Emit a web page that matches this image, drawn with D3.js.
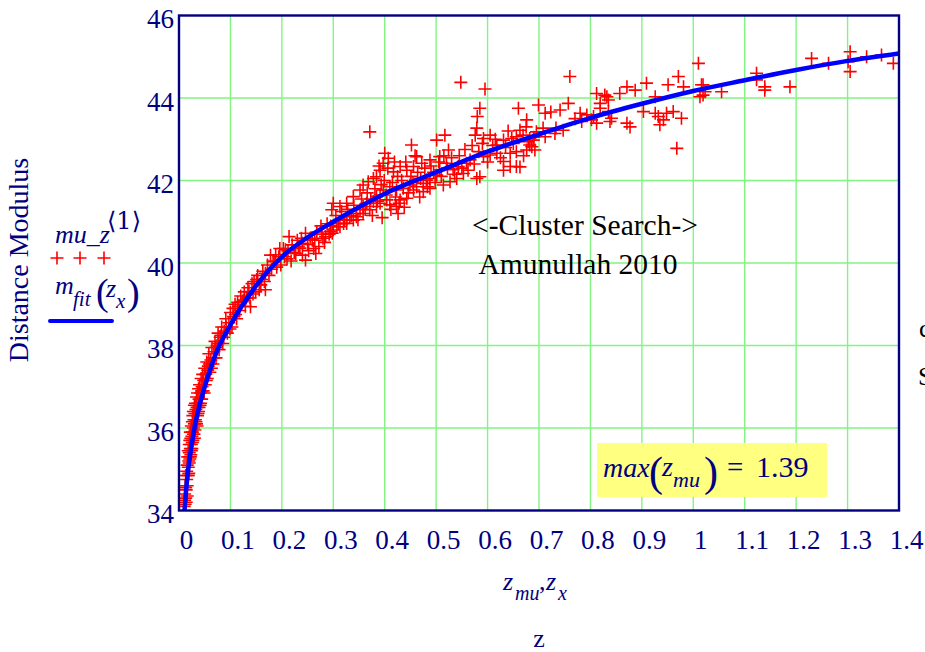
<!DOCTYPE html>
<html>
<head>
<meta charset="utf-8">
<script src="https://cdn.jsdelivr.net/npm/d3@7"></script>
<style>
  body { margin: 0; background: #fff; }
  svg { display: block; }
  text { font-family: "Liberation Serif", "Times New Roman", serif; }
</style>
</head>
<body>
<script>
// Tick values and labels
var xTicks = [0, 0.1, 0.2, 0.3, 0.4, 0.5, 0.6, 0.7, 0.8, 0.9, 1, 1.1, 1.2, 1.3, 1.4];
var xTickLabels = ["0", "0.1", "0.2", "0.3", "0.4", "0.5", "0.6", "0.7", "0.8", "0.9", "1", "1.1", "1.2", "1.3", "1.4"];
var yTicks = [34, 36, 38, 40, 42, 44, 46];
var yTickLabels = ["34", "36", "38", "40", "42", "44", "46"];

// Fitted curve m_fit(z_x)
var fitZ  = [0.01, 0.015, 0.02, 0.03, 0.04, 0.05, 0.075, 0.1, 0.15, 0.2, 0.25, 0.3, 0.4, 0.5, 0.6, 0.7, 0.8, 0.9, 1.0, 1.1, 1.2, 1.3, 1.4];
var fitMu = [33.9, 34.65, 35.2, 36.0, 36.55, 37.0, 37.9, 38.5, 39.45, 40.15, 40.62, 41.0, 41.68, 42.2, 42.7, 43.12, 43.52, 43.86, 44.17, 44.43, 44.68, 44.9, 45.08];

// Supernovae mu_z<1> : [z, mu]
var lowZ = [
  [0.010,34.1],[0.011,34.4],[0.012,34.15],[0.012,34.6],[0.013,34.3],[0.013,34.85],[0.014,34.5],[0.014,34.2],
  [0.015,34.75],[0.015,34.95],[0.016,34.6],[0.016,35.1],[0.017,34.85],[0.017,35.3],[0.018,35.05],[0.018,35.45],
  [0.019,35.2],[0.019,34.9],[0.020,35.4],[0.020,35.6],[0.021,35.25],[0.021,35.7],[0.022,35.5],[0.022,35.9],
  [0.023,35.35],[0.023,35.75],[0.024,35.6],[0.024,36.05],[0.025,35.8],[0.025,35.5],[0.026,36.15],[0.026,35.9],
  [0.027,35.7],[0.027,36.3],[0.028,36.0],[0.028,36.4],[0.029,35.85],[0.029,36.2],[0.030,36.55],[0.030,36.1],
  [0.031,35.95],[0.031,36.35],[0.032,36.6],[0.032,36.2],[0.033,36.45],[0.034,36.75],[0.034,36.1],[0.035,36.5],
  [0.036,36.3],[0.036,36.85],[0.037,36.6],[0.038,36.95],[0.038,36.4],[0.039,36.7],[0.040,37.05],[0.041,36.55],
  [0.042,36.85],[0.043,37.2],[0.044,36.7],[0.045,37.0],[0.046,37.3],[0.047,36.9],[0.048,37.15],[0.050,37.45],
  [0.051,37.05],[0.052,37.3],[0.054,37.6],[0.055,37.2],[0.057,37.5],[0.058,37.8],[0.060,37.35],[0.062,37.65],
  [0.064,37.95],[0.066,37.55],[0.068,37.85],[0.070,38.1],[0.072,37.7],[0.074,38.0],[0.076,38.3],[0.078,37.9],
  [0.080,38.2],[0.083,38.45],[0.085,38.05],[0.088,38.35],[0.091,38.65],[0.094,38.3],[0.097,38.55],[0.100,38.8],
  [0.011,34.25],[0.013,34.55],[0.016,34.35],[0.018,34.85],[0.020,35.15],[0.022,35.3],[0.024,35.45],[0.026,35.65],
  [0.028,35.85],[0.030,35.75],[0.033,36.15],[0.035,36.05],[0.037,36.35],[0.039,36.5],[0.042,36.6],[0.044,36.9],
  [0.049,36.85],[0.053,37.15],[0.056,37.4],[0.059,37.55],[0.063,37.45],[0.067,37.7],[0.071,37.95],[0.077,38.05],
  [0.082,38.25],[0.087,38.2],[0.092,38.45],[0.099,38.4]
];

var nearZ = [
  [0.103,38.45],[0.106,38.7],[0.109,39.0],[0.112,38.65],[0.116,38.95],[0.120,39.2],[0.123,39.06],[0.127,39.3],
  [0.131,39.15],[0.136,39.31],[0.139,38.94],[0.142,39.5],[0.146,39.55],[0.149,39.3],[0.153,39.7],[0.159,39.47],
  [0.163,39.8],[0.168,39.75],[0.168,39.35],[0.172,39.95],[0.178,40.19],[0.180,39.85],[0.185,40.03],[0.188,40.2],
  [0.194,40.15],[0.198,39.95],[0.203,40.35],[0.207,40.32],[0.210,40.1],[0.214,40.64],[0.220,40.44],[0.224,40.25],
  [0.227,40.23],[0.230,40.55],[0.235,40.36],[0.240,40.19],[0.240,40.48],[0.246,40.07],[0.246,40.72],[0.250,40.45],
  [0.255,40.6],[0.259,40.56],[0.262,40.35],[0.266,40.23],[0.268,40.75],[0.272,40.4],[0.276,40.9],[0.280,40.6],
  [0.285,40.64],[0.288,40.95],[0.292,40.7],[0.298,40.72],
  [0.105,38.9],[0.110,38.75],[0.114,39.05],[0.118,38.85],[0.125,39.1],[0.129,38.95],[0.134,39.4],[0.138,39.15],
  [0.144,39.25],[0.151,39.6],[0.156,39.35],[0.161,39.6],[0.166,39.55],[0.175,39.7],[0.183,40.05],[0.190,39.9],
  [0.196,40.35],[0.205,40.15],[0.212,40.3],[0.218,40.05],[0.232,40.4],[0.238,40.6],[0.252,40.3],[0.264,40.55],
  [0.278,40.7],[0.283,40.5],[0.295,40.9]
];

var midZ = [
  [0.576,43.10],[0.579,43.27],[0.592,43.02],[0.605,43.10],[0.618,42.86],[0.631,42.98],[0.647,43.02],[0.656,43.06],
  [0.669,43.10],[0.682,43.02],[0.695,43.18],[0.708,43.27],[0.682,42.86],[0.676,42.74],[0.692,42.74],[0.656,42.70],
  [0.644,42.66],[0.618,42.66],[0.605,42.62],[0.592,42.58],[0.566,42.50],[0.559,42.42],[0.543,42.34],[0.533,42.26],
  [0.520,42.42],[0.507,42.26],[0.501,42.13],[0.488,42.05],[0.481,42.01],[0.475,41.93],[0.462,41.85],[0.449,41.89],
  [0.436,41.81],[0.423,41.77],[0.410,41.85],[0.397,41.77],[0.391,41.65],[0.384,41.61],[0.378,41.49],[0.365,41.45],
  [0.358,41.37],[0.352,41.29],[0.345,41.20],[0.332,41.12],[0.326,41.04],[0.320,40.96],[0.307,40.88],[0.300,40.80],
  [0.294,40.76],
  [0.631,42.46],[0.644,42.34],[0.656,42.34],[0.631,42.25],[0.579,42.05],[0.585,42.09],[0.553,42.17],[0.540,42.05],
  [0.527,41.97],[0.514,41.89],[0.488,41.81],[0.475,41.73],[0.456,41.77],[0.443,41.57],[0.430,41.53],[0.423,41.37],
  [0.426,41.20],[0.410,41.41],[0.404,41.53],[0.391,41.45],[0.384,41.37],[0.371,41.29],[0.358,41.20],[0.345,41.12],
  [0.339,41.04],[0.326,40.96],[0.313,40.88],
  [0.371,43.18],[0.452,42.86],[0.501,42.98],[0.517,43.10],[0.524,42.74],[0.507,42.58],[0.488,42.50],[0.472,42.42],
  [0.462,42.58],[0.456,42.34],[0.443,42.25],[0.430,42.34],[0.417,42.21],[0.407,42.54],[0.400,42.66],[0.397,42.42],
  [0.391,42.25],[0.384,42.09],[0.378,42.05],[0.368,41.97],[0.358,41.89],[0.352,41.77],[0.339,41.61],[0.326,41.45],
  [0.313,41.37],[0.300,41.45],[0.297,41.29],
  [0.548,44.38],[0.595,44.22],[0.585,43.75],[0.580,43.55],[0.660,43.75],[0.663,42.33],
  [0.305,41.15],[0.310,40.95],[0.316,41.25],[0.322,41.05],[0.328,41.30],[0.335,41.15],[0.340,41.40],[0.348,41.05],
  [0.355,41.55],[0.362,41.30],[0.366,41.70],[0.373,41.55],[0.376,41.15],[0.381,41.80],[0.386,41.50],[0.389,42.35],
  [0.393,41.90],[0.395,41.10],[0.399,42.00],[0.403,41.65],[0.406,42.30],[0.412,41.30],[0.415,41.95],[0.419,42.45],
  [0.421,41.60],[0.425,42.10],[0.428,41.45],[0.433,42.00],[0.438,41.35],[0.441,42.45],[0.446,41.70],[0.451,42.10],
  [0.455,41.95],[0.459,42.60],[0.464,42.20],[0.468,41.60],[0.470,42.05],[0.478,42.30],[0.483,41.85],[0.490,42.35],
  [0.495,42.20],[0.498,41.95],[0.505,42.45],[0.510,42.10],[0.515,42.60],[0.522,42.30],[0.530,42.55],[0.536,42.15],
  [0.545,42.60],[0.550,42.30],[0.556,42.75],[0.562,42.25],[0.570,42.85],[0.574,42.40],[0.583,42.70],[0.590,42.90],
  [0.600,42.45],[0.610,42.85],[0.615,43.00],[0.625,42.55],[0.635,42.80],[0.640,43.20],[0.650,42.90],[0.670,42.60],
  [0.675,43.30],[0.690,43.05]
];

var highZ = [
  [0.760,44.52],[0.699,43.83],[0.712,43.63],[0.676,43.47],[0.741,43.71],[0.757,43.87],[0.812,44.11],[0.828,44.07],
  [0.835,43.95],[0.857,44.11],[0.871,44.27],[0.887,44.19],[0.909,44.36],[0.926,44.03],[0.951,44.32],[0.971,44.52],
  [0.981,44.27],[1.010,44.84],[1.016,44.32],[1.013,44.03],[1.023,44.15],[0.968,42.78],[0.977,43.51],[0.948,43.63],
  [0.942,43.47],[0.935,43.35],[0.932,43.55],[0.961,43.67],[0.926,43.63],[0.903,43.67],[0.877,43.30],[0.871,43.39],
  [0.838,43.43],[0.812,43.39],[0.802,43.47],[0.793,43.59],[0.780,43.63],[0.819,43.75],[0.835,43.67],[0.841,43.51],
  [0.819,43.87],[0.832,44.03],[0.747,43.22],[0.731,43.14],[0.712,43.06],[0.689,42.98],[0.679,42.94],[0.686,42.82],
  [0.663,43.22],[0.783,43.43],[0.806,43.55],[0.723,43.66],[0.733,43.27],[0.770,43.50],
  [1.019,44.32],[1.019,44.07],[1.055,44.15],[1.123,44.60],[1.123,44.44],[1.139,44.27],[1.139,44.19],[1.188,44.27],
  [1.230,44.96],[1.263,44.84],[1.301,44.88],[1.305,45.12],[1.305,44.64],[1.337,45.00],[1.366,45.04],[1.389,44.84]
];

var points = lowZ.concat(nearZ, midZ, highZ);
var fitData = fitZ.map(function(z, i) { return [z, fitMu[i]]; });

var navy = "#000080";
var width = 925, height = 652;

var x = d3.scaleLinear().domain([0, 1.4]).range([179, 899]);
var y = d3.scaleLinear().domain([34, 46]).range([510.5, 15.5]);

var svg = d3.select("body").append("svg")
  .attr("width", width)
  .attr("height", height);

svg.append("clipPath").attr("id", "plot-clip")
  .append("rect")
  .attr("x", x(0)).attr("y", y(46))
  .attr("width", x(1.4) - x(0)).attr("height", y(34) - y(46));

// Griglia verde
var grid = svg.append("g").attr("stroke", "#80f580").attr("stroke-width", 1.4);
grid.selectAll(".gx")
  .data(xTicks.slice(1, -1))
  .enter().append("line")
  .attr("x1", function(d) { return x(d); })
  .attr("x2", function(d) { return x(d); })
  .attr("y1", y(34)).attr("y2", y(46));
grid.selectAll(".gy")
  .data(yTicks.slice(1, -1))
  .enter().append("line")
  .attr("x1", x(0)).attr("x2", x(1.4))
  .attr("y1", function(d) { return y(d); })
  .attr("y2", function(d) { return y(d); });

// Annotazione
var note = svg.append("g").attr("fill", "#000").attr("font-size", 29.5).attr("text-anchor", "middle");
note.append("text").attr("x", 585).attr("y", 235).text("<-Cluster Search->");
note.append("text").attr("x", 578).attr("y", 274).text("Amunullah 2010");

// Box giallo
svg.append("rect")
  .attr("x", 597).attr("y", 443).attr("width", 230).attr("height", 54)
  .attr("fill", "#ffff80");
var boxText = svg.append("text").attr("fill", navy);
boxText.append("tspan").attr("x", 603).attr("y", 477).attr("font-size", 28).attr("font-style", "italic").text("max");
boxText.append("tspan").attr("x", 649).attr("y", 486).attr("font-size", 42).text("(");
boxText.append("tspan").attr("x", 662).attr("y", 476).attr("font-size", 28).attr("font-style", "italic").text("z");
boxText.append("tspan").attr("x", 673).attr("y", 487).attr("font-size", 22).attr("font-style", "italic").text("mu");
boxText.append("tspan").attr("x", 704).attr("y", 486).attr("font-size", 42).text(")");
boxText.append("tspan").attr("x", 727).attr("y", 477).attr("font-size", 29).text("=");
boxText.append("tspan").attr("x", 756).attr("y", 477).attr("font-size", 30).text("1.39");

// Punti (croci rosse)
var plot = svg.append("g").attr("clip-path", "url(#plot-clip)");
plot.selectAll("path.pt")
  .data(points)
  .enter().append("path")
  .attr("class", "pt")
  .attr("d", function(d) {
    var px = x(d[0]), py = y(d[1]);
    return "M" + (px - 6.5) + "," + py + "H" + (px + 6.5) + "M" + px + "," + (py - 6.5) + "V" + (py + 6.5);
  })
  .attr("stroke", "#ff0000")
  .attr("stroke-width", 1.6)
  .attr("fill", "none");

// Curva blu
var line = d3.line()
  .x(function(d) { return x(d[0]); })
  .y(function(d) { return y(d[1]); })
  .curve(d3.curveMonotoneX);
plot.append("path")
  .datum(fitData)
  .attr("d", line)
  .attr("fill", "none")
  .attr("stroke", "#0000ff")
  .attr("stroke-width", 4.5);

// Cornice
svg.append("rect")
  .attr("x", x(0)).attr("y", y(46))
  .attr("width", x(1.4) - x(0)).attr("height", y(34) - y(46))
  .attr("fill", "none").attr("stroke", navy).attr("stroke-width", 2.4);

// Assi
var xAxis = svg.append("g")
  .attr("transform", "translate(0," + y(34) + ")")
  .call(d3.axisBottom(x).tickValues(xTicks)
    .tickFormat(function(d, i) { return xTickLabels[i]; })
    .tickSize(0).tickPadding(19));
xAxis.select(".domain").remove();
xAxis.selectAll("text")
  .attr("dx", 7)
  .attr("fill", navy)
  .attr("font-size", 27);

var yAxis = svg.append("g")
  .attr("transform", "translate(" + x(0) + ",0)")
  .call(d3.axisLeft(y).tickValues(yTicks)
    .tickFormat(function(d, i) { return yTickLabels[i]; })
    .tickSize(0).tickPadding(5));
yAxis.select(".domain").remove();
yAxis.selectAll("text")
  .attr("dy", "0.46em")
  .attr("fill", navy)
  .attr("font-size", 27);

// Etichetta asse y
svg.append("text")
  .attr("transform", "translate(28,260) rotate(-90)")
  .attr("text-anchor", "middle")
  .attr("fill", navy)
  .attr("font-size", 28)
  .text("Distance Modulus");

// Legenda
var leg1 = svg.append("text").attr("fill", navy);
leg1.append("tspan").attr("x", 55).attr("y", 243).attr("font-size", 26).attr("font-style", "italic").text("mu_z");
leg1.append("tspan").attr("x", 107).attr("y", 229).attr("font-size", 24).attr("font-family", "DejaVu Serif, Liberation Serif, serif").text("\u27E81\u27E9");

svg.append("g").selectAll("path")
  .data([57, 80, 104])
  .enter().append("path")
  .attr("d", function(d) { return "M" + (d - 6.5) + ",258H" + (d + 6.5) + "M" + d + ",251.5V264.5"; })
  .attr("stroke", "#ff0000").attr("stroke-width", 1.6);

var leg2 = svg.append("text").attr("fill", navy);
leg2.append("tspan").attr("x", 55).attr("y", 294).attr("font-size", 26).attr("font-style", "italic").text("m");
leg2.append("tspan").attr("x", 73).attr("y", 306).attr("font-size", 21).attr("font-style", "italic").text("fit");
leg2.append("tspan").attr("x", 96).attr("y", 305).attr("font-size", 38).text("(");
leg2.append("tspan").attr("x", 106).attr("y", 297).attr("font-size", 26).attr("font-style", "italic").text("z");
leg2.append("tspan").attr("x", 116).attr("y", 308).attr("font-size", 21).attr("font-style", "italic").text("x");
leg2.append("tspan").attr("x", 127).attr("y", 305).attr("font-size", 38).text(")");

svg.append("line")
  .attr("x1", 50).attr("x2", 112).attr("y1", 321).attr("y2", 321)
  .attr("stroke", "#0000ff").attr("stroke-width", 4).attr("stroke-linecap", "round");

// Etichetta asse x
var xl = svg.append("text").attr("fill", navy).attr("font-style", "italic");
xl.append("tspan").attr("x", 503).attr("y", 590).attr("font-size", 26).text("z");
xl.append("tspan").attr("x", 515).attr("y", 600).attr("font-size", 20).text("mu");
xl.append("tspan").attr("x", 539).attr("y", 590).attr("font-size", 26).attr("font-style", "normal").text(",");
xl.append("tspan").attr("x", 546).attr("y", 590).attr("font-size", 26).text("z");
xl.append("tspan").attr("x", 558).attr("y", 600).attr("font-size", 20).text("x");

svg.append("text")
  .attr("x", 539).attr("y", 647)
  .attr("text-anchor", "middle")
  .attr("fill", navy).attr("font-size", 26)
  .text("z");

// Testo tagliato a destra
svg.append("text").attr("x", 919).attr("y", 337).attr("fill", "#000").attr("font-size", 26).text("c");
svg.append("text").attr("x", 918).attr("y", 385).attr("fill", "#000").attr("font-size", 26).text("S");
</script>
</body>
</html>
